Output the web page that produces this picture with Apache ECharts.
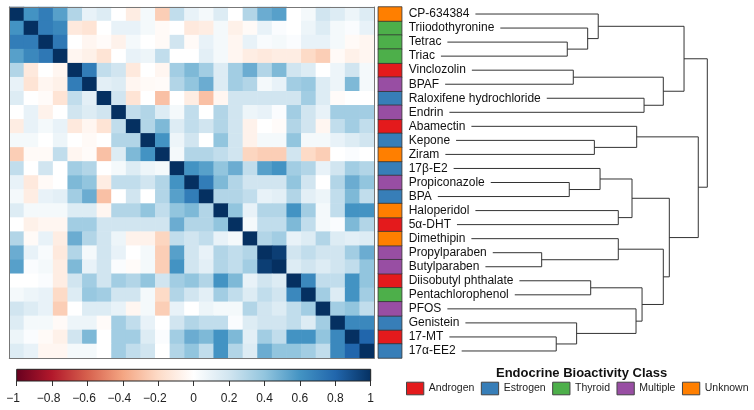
<!DOCTYPE html>
<html><head><meta charset="utf-8">
<script src="https://cdn.jsdelivr.net/npm/echarts@6/dist/echarts.min.js"></script>
<style>html,body{margin:0;padding:0;background:#fff}#c{width:754px;height:410px}</style>
</head><body><div id="c"></div><script>
// ---------------- DATA ----------------
const compounds = ['CP-634384','Triiodothyronine','Tetrac','Triac','Vinclozolin','BPAF',
  'Raloxifene hydrochloride','Endrin','Abamectin','Kepone','Ziram','17\u03b2-E2','Propiconazole',
  'BPA','Haloperidol','5\u03b1-DHT','Dimethipin','Propylparaben','Butylparaben',
  'Diisobutyl phthalate','Pentachlorophenol','PFOS','Genistein','17-MT','17\u03b1-EE2'];
const compoundClass = ['Unknown','Thyroid','Thyroid','Thyroid','Androgen','Multiple',
  'Estrogen','Multiple','Androgen','Estrogen','Unknown','Estrogen','Multiple',
  'Estrogen','Unknown','Androgen','Unknown','Multiple','Multiple',
  'Androgen','Thyroid','Multiple','Estrogen','Androgen','Estrogen'];
const classNames = ['Androgen','Estrogen','Thyroid','Multiple','Unknown'];
const classColors = ['#E41A1C','#377EB8','#4DAF4A','#984EA3','#FF7F00'];

// lower triangle of the correlation matrix (row i, columns 0..i)
const corrLower = [
 [1],
 [0.6,1],
 [0.7,0.7,1],
 [0.55,0.65,0.72,1],
 [0.3,-0.12,0,-0.05,1],
 [0.1,-0.15,-0.05,-0.08,0.7,1],
 [0.15,0,-0.02,-0.15,0.25,0.12,1],
 [0,0.1,-0.07,0,0.2,0.15,0.2,1],
 [-0.1,0.1,0.05,0.1,-0.12,-0.05,-0.15,0.25,1],
 [0.05,0.05,0,0.08,0,-0.03,0,0.3,0.3,1],
 [-0.25,-0.03,-0.03,0.25,-0.05,-0.02,-0.3,0.15,0.45,0.6,1],
 [0.25,0,0.2,0,0.35,0.3,0,0.05,0.15,0.08,0.05,1],
 [0.1,-0.12,-0.03,0,0.45,0.4,-0.1,0.25,0.25,0.2,0.3,0.6,1],
 [0.05,-0.1,0.1,0.12,0.35,0.5,-0.3,0,0.2,0,0.3,0.55,0.7,1],
 [0.15,0.05,0.05,0.05,0.15,0.15,-0.05,0.3,0.3,0.4,0.25,0.4,0.45,0.3,1],
 [0,-0.08,-0.05,-0.05,0.35,0.35,0.2,0.2,0.2,0.2,0.2,0.5,0.3,0.3,0.4,1],
 [0.3,-0.03,0.1,-0.1,0.5,0.3,0.2,0.08,-0.07,-0.07,-0.22,0.25,0.2,0.25,0.1,0.05,1],
 [0.5,0.1,0.03,-0.12,0.3,0.05,0.2,0.1,0,0.05,-0.25,0.55,0.2,0.1,0.3,0.25,0.3,1],
 [0.55,0.02,0.05,-0.1,0.45,0.1,0.2,0.02,-0.02,0.05,-0.25,0.6,0.2,0.12,0.3,0.25,0.35,0.95,1],
 [0,0,0.02,-0.1,0.2,0.35,0.2,0.35,0.3,0.4,0.2,0.35,0.4,0.3,0.6,0.45,0.1,0.2,0.15,1],
 [0.05,0.08,0.1,-0.2,0.15,0.38,0.35,0.2,0.2,0.05,-0.2,0.3,0.2,0.12,0.35,0.25,0.15,0.25,0.2,0.65,1],
 [0.2,0.15,0.1,-0.25,0,0.15,0.15,0.1,-0.05,0.05,-0.25,0.1,0,0.08,0.05,0.05,0.3,0.2,0.15,0.25,0.35,1],
 [0.15,0.05,0.05,-0.03,0.08,0.08,-0.02,0.35,0.25,0.1,0,0.2,0.3,0.25,0.25,0.02,0.15,0.2,0.2,0.25,0.15,0.35,1],
 [0.08,0.02,-0.03,-0.08,0.2,0.45,0,0.35,0.35,0.15,0.02,0.35,0.5,0.45,0.6,0.45,0.12,0.35,0.25,0.6,0.6,0.4,0.65,1],
 [0.15,0.1,-0.05,-0.05,0.05,0.05,0,0.35,0.25,0.2,0,0.3,0.4,0.25,0.6,0.3,0.15,0.5,0.4,0.4,0.35,0.25,0.65,0.8,1]
];

// dendrogram merges: [child A, child B, merge height]; Lk = leaf row k, Mk = merge k
const dendroMerges = [
 ['L2','L3',0.163], ['L1','M0',0.285], ['L0','M1',0.348], ['L4','L5',0.199],
 ['L6','L7',0.622], ['M3','M4',0.737], ['M2','M5',0.861], ['L9','L10',0.325],
 ['L8','M7',0.578], ['L12','L13',0.175], ['L11','M9',0.359], ['L14','L15',0.468],
 ['M10','M11',0.550], ['L17','L18',0.010], ['L16','M13',0.468], ['L19','L20',0.303],
 ['L23','L24',0.097], ['L22','M16',0.219], ['L21','M17',0.574], ['M15','M18',0.610],
 ['M14','M19',0.737], ['M12','M20',0.773], ['M8','M21',0.946], ['M6','M22',1.0]
];

const colorTicks = [-1,-0.8,-0.6,-0.4,-0.2,0,0.2,0.4,0.6,0.8,1];
const palette = ['#67001F','#B2182B','#D6604D','#F4A582','#FDDBC7','#FFFFFF','#D1E5F0','#92C5DE','#4393C3','#2166AC','#053061'];

// ---------------- BUILD ----------------
const N = compounds.length;
const heatData = [];
for (let i = 0; i < N; i++) for (let j = 0; j < N; j++) {
  const v = i >= j ? corrLower[i][j] : corrLower[j][i];
  heatData.push([j, i, v]);
}
const idx = compounds.map((_, k) => k);

const FONT = '"Liberation Sans", Arial, Helvetica, sans-serif';
const ctx = document.createElement('canvas').getContext('2d');
ctx.font = '12px "Liberation Sans"';
const labelW = compounds.map(s => ctx.measureText(s).width);
const minusW = ctx.measureText('\u2212').width;

const HM = {left: 9.3, top: 7, width: 365, height: 351};
const STRIP = {left: 378.3, top: 7, width: 23.4, height: 351};
const LABEL_MARGIN = 7;
const DEN = {left: 540, top: 7, width: 167.3, height: 351};
const CB = {left: 16.7, top: 369.3, width: 354, height: 11.7};

function nodeY(ref) {
  const k = +ref.slice(1);
  if (ref[0] === 'L') return k;
  return (nodeY(dendroMerges[k][0]) + nodeY(dendroMerges[k][1])) / 2;
}
function nodeH(ref) { return ref[0] === 'L' ? null : dendroMerges[+ref.slice(1)][2]; }

const classSeries = classNames.map((cn, c) => ({
  name: cn, type: 'heatmap', xAxisIndex: 2, yAxisIndex: 2,
  data: compoundClass.map((k, r) => k === cn ? [0, r, 1] : null).filter(d => d),
  itemStyle: {color: classColors[c], borderColor: '#333', borderWidth: 0.8},
  emphasis: {disabled: true}
}));

const hiddenCat = (gi, pos, extra) => Object.assign({
  type: 'category', gridIndex: gi, position: pos, data: idx,
  axisLine: {show: true, onZero: false, lineStyle: {color: '#777', width: 1}},
  axisTick: {show: false}, axisLabel: {show: false}, splitLine: {show: false}, z: 10
}, extra || {});

const chart = echarts.init(document.getElementById('c'), null, {renderer: 'canvas'});
chart.setOption({
  animation: false,
  backgroundColor: '#fff',
  title: {text: 'Endocrine Bioactivity Class', left: 496, top: 366.5, padding: 0,
    textStyle: {fontSize: 13, fontWeight: 'bold', color: '#111', fontFamily: FONT}},
  legend: {data: classNames, left: 406, top: 381.7, width: 420, padding: 0,
    itemWidth: 17.3, itemHeight: 12.6, itemGap: 6.5, icon: 'rect', selectedMode: false,
    itemStyle: {borderColor: '#444', borderWidth: 1},
    textStyle: {fontSize: 10.5, color: '#222', fontFamily: FONT}},
  grid: [
    Object.assign({}, HM),
    Object.assign({}, STRIP),
    Object.assign({}, DEN),
    Object.assign({}, CB)
  ],
  visualMap: {show: false, type: 'continuous', min: -1, max: 1, seriesIndex: 0,
    inRange: {color: palette}},
  xAxis: [
    hiddenCat(0, 'bottom'),
    hiddenCat(0, 'top'),
    {type: 'category', gridIndex: 1, data: [0], show: false},
    {type: 'value', gridIndex: 2, min: 0, max: 1, show: false},
    {type: 'value', gridIndex: 3, min: colorTicks[0], max: colorTicks[colorTicks.length - 1],
      interval: 0.2, position: 'bottom',
      axisLine: {show: false}, splitLine: {show: false},
      axisTick: {show: true, length: 5, lineStyle: {color: '#333'}},
      axisLabel: {fontSize: 12, margin: 12, color: '#222', fontFamily: FONT,
        formatter: v => {
          const r = Math.round(v * 10) / 10;
          const s = String(Math.abs(r));
          return r < 0 ? '{m|\u2212}' + s + '{p| }' : s;
        },
        rich: {m: {fontSize: 12, color: '#222', fontFamily: FONT},
               p: {width: minusW, fontSize: 12}}}}
  ],
  yAxis: [
    hiddenCat(0, 'left', {inverse: true}),
    hiddenCat(0, 'right', {inverse: true}),
    {type: 'category', gridIndex: 1, data: compounds, inverse: true, position: 'right',
      axisLine: {show: false}, axisTick: {show: false},
      axisLabel: {margin: LABEL_MARGIN, fontSize: 12, color: '#111', fontFamily: FONT, interval: 0}},
    {type: 'value', gridIndex: 2, min: -0.5, max: N - 0.5, inverse: true, show: false},
    {type: 'value', gridIndex: 3, min: 0, max: 1, show: false}
  ],
  series: [
    {type: 'heatmap', xAxisIndex: 0, yAxisIndex: 0, data: heatData, emphasis: {disabled: true}},
    ...classSeries,
    {type: 'custom', xAxisIndex: 3, yAxisIndex: 3, clip: false, silent: true,
      data: dendroMerges.map((m, k) => [m[2], k]),
      renderItem: function (params, api) {
        const m = dendroMerges[params.dataIndex];
        const hx = api.coord([m[2], 0])[0];
        const ends = [m[0], m[1]].map(ref => {
          const y = api.coord([0, nodeY(ref)])[1];
          const h = nodeH(ref);
          let x;
          if (h === null) {
            const k = +ref.slice(1);
            x = STRIP.left + STRIP.width + LABEL_MARGIN + labelW[k] + 6;
          } else x = api.coord([h, 0])[0];
          return [x, y];
        });
        return {type: 'polyline', shape: {points: [ends[0], [hx, ends[0][1]], [hx, ends[1][1]], ends[1]]},
          style: {stroke: '#333', lineWidth: 1, fill: null}};
      }},
    {type: 'custom', xAxisIndex: 4, yAxisIndex: 4, clip: false, silent: true,
      data: [[colorTicks[0], 0, colorTicks[colorTicks.length - 1], 1]],
      renderItem: function (params, api) {
        const p0 = api.coord([api.value(0), api.value(1)]);
        const p1 = api.coord([api.value(2), api.value(3)]);
        const stops = palette.map((c, k) => ({offset: k / (palette.length - 1), color: c}));
        return {type: 'rect', shape: {x: p0[0], y: p1[1], width: p1[0] - p0[0], height: p0[1] - p1[1]},
          style: {fill: new echarts.graphic.LinearGradient(0, 0, 1, 0, stops), stroke: '#222', lineWidth: 1}};
      }}
  ]
});
</script></body></html>
